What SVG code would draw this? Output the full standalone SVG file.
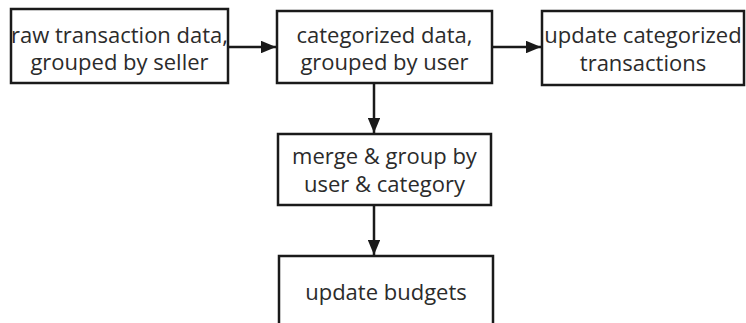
<svg xmlns="http://www.w3.org/2000/svg" width="746" height="323" viewBox="0 0 746 323">
<defs>
<marker id="ah" viewBox="0 0 12 10" refX="12" refY="5" markerWidth="6" markerHeight="5" markerUnits="strokeWidth" orient="auto">
<path d="M0,0 L12,5 L0,10 z" fill="#1a1a1a"/>
</marker>
<style>
.box{fill:#fff;stroke:#1a1a1a;stroke-width:2.5}
.lbl{font-family:"Open Sans","Liberation Sans",sans-serif;font-size:22px;fill:#2b2b2b;text-anchor:middle}
.conn{stroke:#1a1a1a;stroke-width:2.5;fill:none;marker-end:url(#ah)}
</style>
</defs>
<rect width="746" height="323" fill="#fff"/>
<g id="connectors">
<line class="conn" x1="228" y1="47" x2="276" y2="47"/>
<line class="conn" x1="492" y1="47" x2="541" y2="47"/>
<line class="conn" x1="374" y1="83" x2="374" y2="133"/>
<line class="conn" x1="374" y1="205" x2="374" y2="255"/>
</g>
<g id="raw">
<rect class="box" x="11" y="9" width="217" height="74"/>
<text class="lbl" x="119.5" y="43">raw transaction data,</text>
<text class="lbl" x="119.5" y="70">grouped by seller</text>
</g>
<g id="categorized">
<rect class="box" x="277" y="11" width="215" height="72"/>
<text class="lbl" x="384.5" y="43">categorized data,</text>
<text class="lbl" x="384.5" y="70">grouped by user</text>
</g>
<g id="updatecat">
<rect class="box" x="542" y="11" width="202" height="74"/>
<text class="lbl" x="643" y="43">update categorized</text>
<text class="lbl" x="643" y="71">transactions</text>
</g>
<g id="merge">
<rect class="box" x="278" y="134" width="213" height="71"/>
<text class="lbl" x="384.5" y="164">merge &amp; group by</text>
<text class="lbl" x="384.5" y="192">user &amp; category</text>
</g>
<g id="budgets">
<rect class="box" x="279" y="256" width="214" height="80"/>
<text class="lbl" x="386" y="300">update budgets</text>
</g>
</svg>
